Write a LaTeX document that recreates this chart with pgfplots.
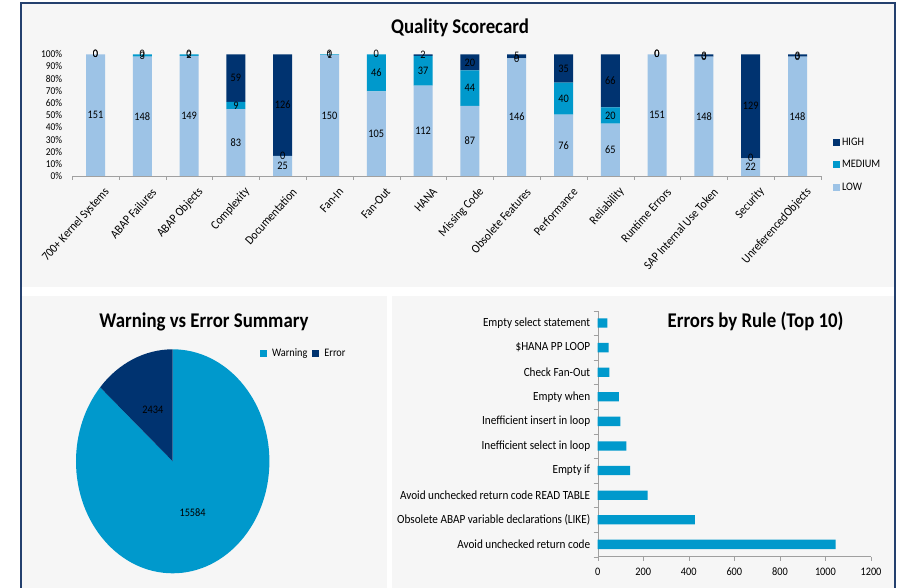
\documentclass[border=0pt]{standalone}
\usepackage{fontspec}
\setmainfont{Carlito}[FakeStretch=0.9]
\usepackage{pgfplots}
\usepackage{pgfplotstable}
\pgfplotsset{compat=1.18}

\definecolor{lowc}{RGB}{157,195,230}
\definecolor{medc}{RGB}{0,153,204}
\definecolor{highc}{RGB}{0,51,112}
\definecolor{panel}{RGB}{246,246,246}
\definecolor{framec}{RGB}{36,64,110}
\definecolor{axisc}{RGB}{160,160,160}

% quality scorecard, counts per severity
\pgfplotstableread{
idx low med high
0  151 0  0
1  148 3  0
2  149 2  0
3  83  9  59
4  25  0  126
5  150 1  0
6  105 46 0
7  112 37 2
8  87  44 20
9  146 0  5
10 76  40 35
11 65  20 66
12 151 0  0
13 148 0  3
14 22  0  129
15 148 0  3
}\scoredata

\pgfplotstableread{
kind count
Warning 15584
Error 2434
}\piedata

% errors by rule, bottom to top
\pgfplotstableread{
idx val
0 1045
1 427
2 219
3 142
4 126
5 99
6 93
7 51
8 48
9 42
}\ruledata

\pgfplotsset{
  /pgf/number format/assume math mode=true,
  /pgf/number format/1000 sep={},
  sqlegend/.style={legend image code/.code={\fill[##1] (0bp,-3.5bp) rectangle (7bp,3.5bp);}},
}
\newcommand{\pct}{(\thisrow{low}+\thisrow{med}+\thisrow{high})}

\begin{document}
\begin{tikzpicture}
\useasboundingbox (0bp,0bp) rectangle (902bp,588bp);
\fill[white] (0bp,0bp) rectangle (902bp,588bp);
\fill[panel] (22bp,301bp) rectangle (894bp,584bp);
\fill[panel] (22bp,0bp) rectangle (386.5bp,292bp);
\fill[panel] (391.5bp,0bp) rectangle (894bp,292bp);
\draw[framec, line width=2bp] (21bp,-3bp) -- (21bp,585bp) -- (895bp,585bp) -- (895bp,-3bp);

\node[font=\bfseries\fontsize{21}{24}\selectfont] at (460bp,560bp) {Quality Scorecard};
\node[font=\bfseries\fontsize{21}{24}\selectfont] at (204bp,266.3bp) {Warning vs Error Summary};
\node[font=\bfseries\fontsize{21}{24}\selectfont] at (755.6bp,266.3bp) {Errors by Rule (Top 10)};

% --- stacked percentage bars
\begin{axis}[
  at={(72.1bp,412bp)}, anchor=south west, scale only axis,
  width=748.8bp, height=121.7bp,
  ybar stacked, bar width=19bp,
  xmin=-0.5, xmax=15.5, ymin=0, ymax=100,
  axis lines*=left, y axis line style={draw=none},
  x axis line style={axisc},
  xtick={0,...,15},
  xticklabels={700+ Kernel Systems, ABAP Failures, ABAP Objects, Complexity,
    Documentation, Fan-In, Fan-Out, HANA, Missing Code, Obsolete Features,
    Performance, Reliability, Runtime Errors, SAP Internal Use Token,
    Security, UnreferencedObjects},
  ytick={0,10,...,100},
  yticklabel={\pgfmathprintnumber{\tick}\%},
  major tick length=0, minor tick length=4bp, tick align=outside,
  minor xtick={-0.5,0.5,...,15.5}, minor tick style={axisc},
  xticklabel style={rotate=48, anchor=east, font=\fontsize{12.5}{14}\selectfont,
    yshift=-18bp, xshift=1bp},
  yticklabel style={font=\fontsize{10.5}{12}\selectfont, xshift=-6.5bp},
  sqlegend, reverse legend,
  legend style={at={(1.012,0.35)}, anchor=north west, draw=none, fill=none,
    font=\fontsize{11.5}{13}\selectfont, row sep=10bp},
  legend cell align=left,
]
\addplot[fill=lowc, draw=none] table[x=idx, y expr=\thisrow{low}*100/\pct] {\scoredata};
\addlegendentry{LOW}
\addplot[fill=medc, draw=none] table[x=idx, y expr=\thisrow{med}*100/\pct] {\scoredata};
\addlegendentry{MEDIUM}
\addplot[fill=highc, draw=none] table[x=idx, y expr=\thisrow{high}*100/\pct] {\scoredata};
\addlegendentry{HIGH}
\end{axis}

% --- value labels, centred in each segment
\begin{axis}[
  at={(72.1bp,412bp)}, anchor=south west, scale only axis,
  width=748.8bp, height=121.7bp,
  xmin=-0.5, xmax=15.5, ymin=0, ymax=100,
  hide axis, clip=false,
  nodes near coords,
  every node near coord/.append style={anchor=center, inner sep=0pt,
    font=\fontsize{11.5}{12}\selectfont, text=black},
]
\addplot[draw=none, mark=none, point meta=\thisrow{low}]
  table[x=idx, y expr=0.5*\thisrow{low}*100/\pct] {\scoredata};
\addplot[draw=none, mark=none, point meta=\thisrow{med}]
  table[x=idx, y expr=(\thisrow{low}+0.5*\thisrow{med})*100/\pct] {\scoredata};
\addplot[draw=none, mark=none, point meta=\thisrow{high}]
  table[x=idx, y expr=(\thisrow{low}+\thisrow{med}+0.5*\thisrow{high})*100/\pct] {\scoredata};
\end{axis}

% --- pie
\pgfplotstablegetelem{0}{count}\of\piedata \let\nwarn\pgfplotsretval
\pgfplotstablegetelem{1}{count}\of\piedata \let\nerr\pgfplotsretval
\pgfmathsetmacro{\ang}{360/(1+\nwarn/\nerr)}
\pgfmathsetmacro{\mide}{90+\ang/2}
\pgfmathsetmacro{\midw}{90+\ang+(360-\ang)/2}
\begin{axis}[
  at={(76bp,14.7bp)}, anchor=south west, scale only axis,
  width=193.4bp, height=224bp,
  xmin=-1, xmax=1, ymin=-1, ymax=1,
  hide axis, clip=false,
  sqlegend, legend columns=2,
  legend style={at={(0.935,0.982)}, anchor=west, draw=none, fill=none,
    font=\fontsize{11.5}{13}\selectfont, column sep=3bp},
]
\addlegendimage{fill=medc, draw=none}
\addlegendentry{Warning}
\addlegendimage{fill=highc, draw=none}
\addlegendentry{Error}
\fill[medc] (axis cs:0,0) -- (axis cs:0,1)
  arc[start angle=90, end angle=\ang-270, x radius=96.7bp, y radius=112bp] -- cycle;
\fill[highc] (axis cs:0,0) -- (axis cs:0,1)
  arc[start angle=90, end angle=90+\ang, x radius=96.7bp, y radius=112bp] -- cycle;
\node[font=\fontsize{11.5}{12}\selectfont] at (axis cs:{0.5*cos(\mide)},{0.5*sin(\mide)}) {\nerr};
\node[font=\fontsize{11.5}{12}\selectfont] at (axis cs:{0.5*cos(\midw)},{0.5*sin(\midw)}) {\nwarn};
\end{axis}

% --- errors by rule
\begin{axis}[
  at={(597.7bp,31.3bp)}, anchor=south west, scale only axis,
  width=273.3bp, height=246bp,
  xbar, bar width=9.3bp,
  xmin=0, xmax=1200, ymin=-0.5, ymax=9.5,
  axis lines*=left, axis line style={axisc},
  xtick={0,200,...,1200}, ytick={0,...,9},
  yticklabels={Avoid unchecked return code, Obsolete ABAP variable declarations (LIKE),
    Avoid unchecked return code READ TABLE, Empty if, Inefficient select in loop,
    Inefficient insert in loop, Empty when, Check Fan-Out, \$HANA PP LOOP,
    Empty select statement},
  major tick length=0, minor tick length=4bp, tick align=outside,
  minor xtick={0,200,...,1200}, minor ytick={-0.5,0.5,...,9.5},
  minor tick style={axisc},
  xticklabel style={font=\fontsize{11.5}{13}\selectfont, yshift=-7.5bp},
  yticklabel style={font=\fontsize{12.5}{14}\selectfont, xshift=-4bp},
]
\addplot[fill=medc, draw=none] table[x=val, y=idx] {\ruledata};
\end{axis}
\end{tikzpicture}
\end{document}
